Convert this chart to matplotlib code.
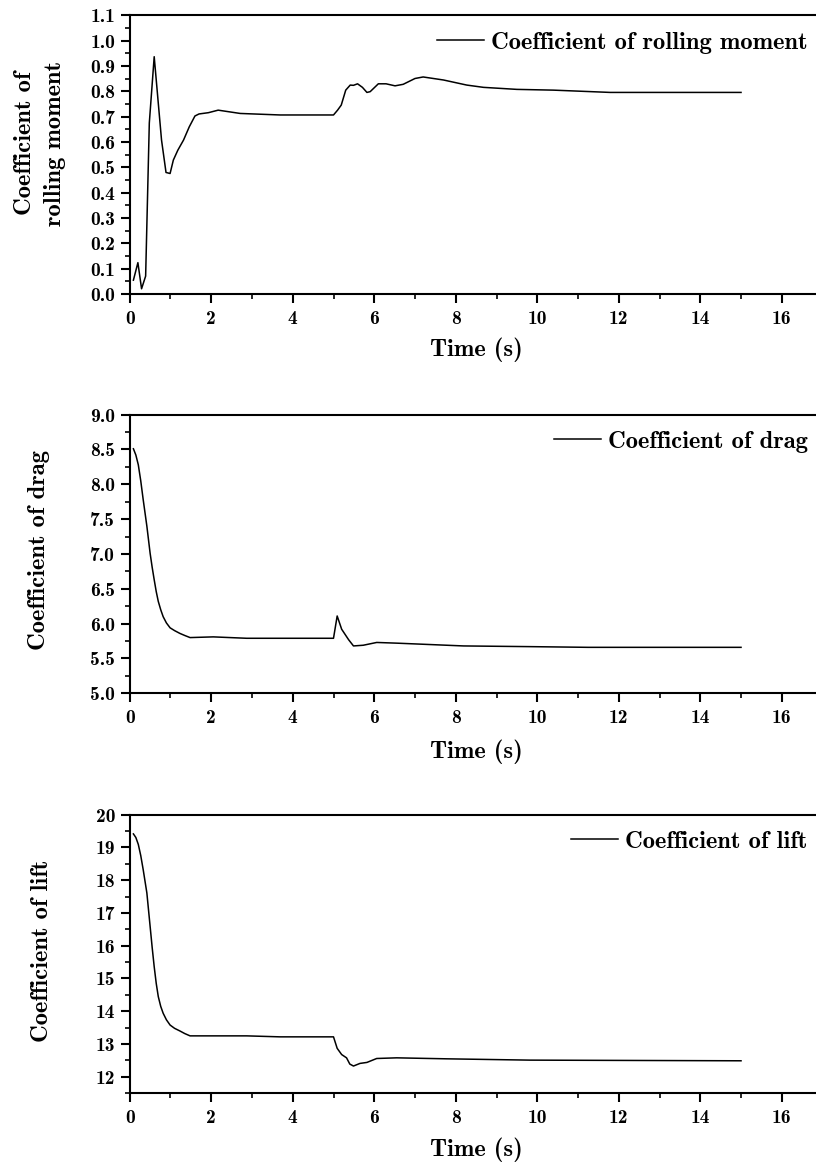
import matplotlib
matplotlib.use('Agg')
import matplotlib.pyplot as plt
from matplotlib.ticker import MultipleLocator, FormatStrFormatter

plt.rcParams['font.family'] = ['cmb10', 'DejaVu Serif']
plt.rcParams['axes.unicode_minus'] = False

# rolling moment coefficient
t_roll = [0.09, 0.2, 0.29, 0.39, 0.48, 0.6, 0.78, 0.89, 0.99, 1.07, 1.18, 1.32, 1.46, 1.6, 1.7,
          1.93, 2.17, 2.71, 3.69, 5.0, 5.1, 5.19, 5.3, 5.41, 5.49, 5.59, 5.71, 5.82, 5.9, 6.1,
          6.29, 6.51, 6.71, 7.0, 7.2, 7.7, 8.27, 8.68, 9.09, 9.5, 10.4, 11.79, 15.0]
c_roll = [0.055, 0.124, 0.021, 0.071, 0.675, 0.937, 0.608, 0.48, 0.476, 0.529, 0.568, 0.608, 0.66, 0.703, 0.711,
          0.716, 0.726, 0.713, 0.707, 0.707, 0.726, 0.746, 0.805, 0.825, 0.824, 0.83, 0.816, 0.796, 0.799, 0.83,
          0.83, 0.822, 0.828, 0.851, 0.857, 0.845, 0.825, 0.816, 0.812, 0.808, 0.805, 0.796, 0.796]

# drag coefficient
t_drag = [0.09, 0.15, 0.21, 0.27, 0.33, 0.42, 0.5, 0.55, 0.6, 0.65, 0.7, 0.76, 0.82, 0.9, 0.99, 1.1, 1.23,
          1.35, 1.48, 2.05, 2.87, 5.0, 5.09, 5.2, 5.37, 5.49, 5.73, 6.06, 6.55, 7.37, 8.19, 9.82, 11.25, 15.0]
c_drag = [8.51, 8.42, 8.28, 8.05, 7.78, 7.40, 7.01, 6.81, 6.63, 6.46, 6.32, 6.2, 6.10, 6.01, 5.94, 5.9, 5.86,
          5.83, 5.80, 5.81, 5.79, 5.79, 6.11, 5.92, 5.77, 5.68, 5.69, 5.73, 5.72, 5.70, 5.68, 5.67, 5.66, 5.66]

# lift coefficient
t_lift = [0.09, 0.15, 0.21, 0.27, 0.33, 0.42, 0.5, 0.55, 0.6, 0.65, 0.7, 0.76, 0.82, 0.9, 0.99, 1.1, 1.23,
          1.35, 1.48, 2.87, 3.69, 5.0, 5.09, 5.2, 5.32, 5.4, 5.49, 5.65, 5.82, 6.06, 6.55, 7.78, 9.82, 15.0]
c_lift = [19.41, 19.3, 19.09, 18.75, 18.32, 17.61, 16.59, 15.95, 15.36, 14.85, 14.45, 14.15, 13.94, 13.74, 13.58,
          13.48, 13.40, 13.32, 13.25, 13.25, 13.22, 13.22, 12.87, 12.68, 12.58, 12.39, 12.33, 12.41, 12.44,
          12.56, 12.58, 12.55, 12.51, 12.49]

panels = [
    (t_roll, c_roll, 'Coefficient of rolling moment', 'Coefficient of\nrolling moment',
     (0.0, 1.1), 0.1, 0.05, '%.1f'),
    (t_drag, c_drag, 'Coefficient of drag', 'Coefficient of drag',
     (5.0, 9.0), 0.5, 0.25, '%.1f'),
    (t_lift, c_lift, 'Coefficient of lift', 'Coefficient of lift',
     (11.5, 20.0), 1, 0.5, '%d'),
]
bottoms = [0.748, 0.4059, 0.0632]
ylab_coords = [(-0.092, 0.542), (-0.115, 0.514), (-0.111, 0.511)]
xlab_y = [-0.154, -0.164, -0.160]

fig = plt.figure(figsize=(8.16, 11.67), dpi=100)

for i, (t, c, leg, ylab, ylim, major, minor, fmt) in enumerate(panels):
    ax = fig.add_axes([0.159, bottoms[i], 0.849, 0.2388])
    ax.plot(t, c, color='black', lw=1.1, label=leg)
    ax.set_xlim(0, 17)
    ax.set_ylim(*ylim)
    ax.xaxis.set_major_locator(MultipleLocator(2))
    ax.xaxis.set_minor_locator(MultipleLocator(1))
    ax.yaxis.set_major_locator(MultipleLocator(major))
    ax.yaxis.set_minor_locator(MultipleLocator(minor))
    ax.yaxis.set_major_formatter(FormatStrFormatter(fmt))
    ax.tick_params(which='major', direction='out', length=6.5, width=1.5, labelsize=14, pad=4)
    ax.tick_params(axis='x', which='major', pad=5)
    ax.tick_params(which='minor', direction='out', length=3.5, width=1.2)
    for s in ax.spines.values():
        s.set_linewidth(1.5)
    ax.set_xlabel('Time (s)', fontsize=17.7)
    ax.xaxis.set_label_coords(0.5, xlab_y[i])
    ax.xaxis.label.set_va('top')
    ax.set_ylabel(ylab, fontsize=17.7, linespacing=1.45)
    ax.yaxis.set_label_coords(*ylab_coords[i])
    ax.legend(loc='upper right', bbox_to_anchor=(0.993, 0.978), frameon=False, fontsize=17.7,
              handlelength=1.9, handletextpad=0.3, borderaxespad=0)

fig.savefig('out.png', dpi=100)
